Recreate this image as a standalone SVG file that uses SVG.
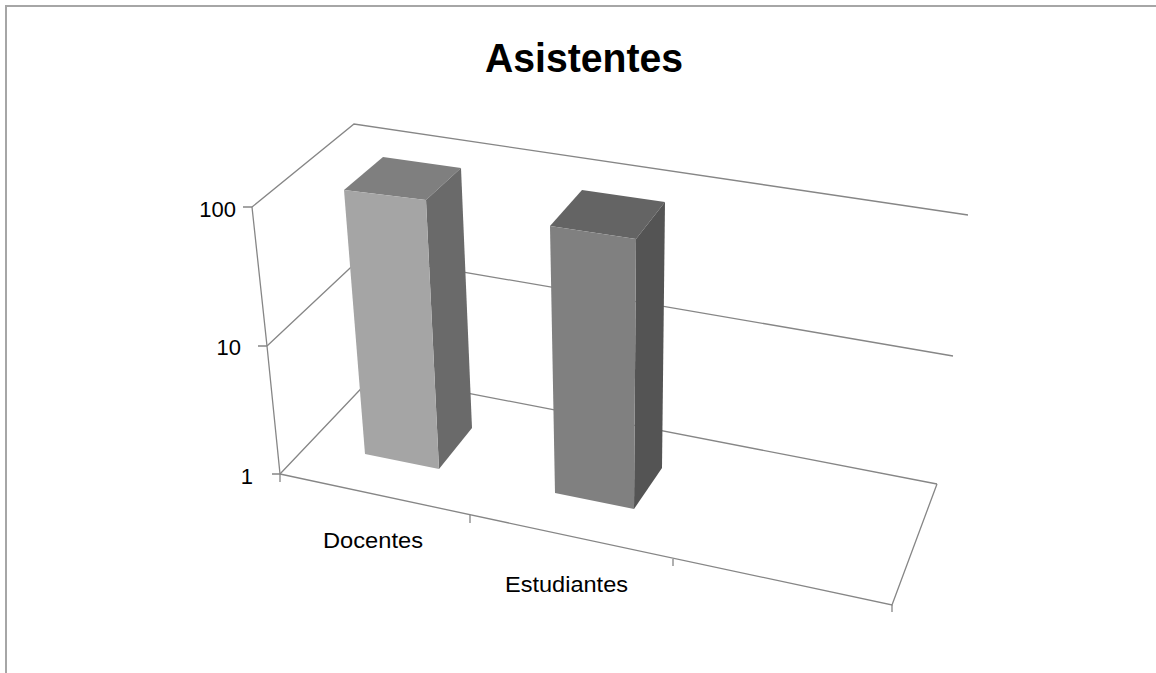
<svg xmlns="http://www.w3.org/2000/svg" width="1156" height="673" viewBox="0 0 1156 673">
<style>
.frame{fill:none;stroke:#a6a6a6;stroke-width:2}
.grid{fill:none;stroke:#868686;stroke-width:1.3}
.lbl{font-family:"Liberation Sans",Arial,sans-serif;font-size:22px;fill:#000}
.title{font-family:"Liberation Sans",Arial,sans-serif;font-size:41px;font-weight:bold;fill:#000}
</style>
<rect width="1156" height="673" fill="#ffffff"/>
<path class="frame" d="M6,673 V6 H1156"/>
<g id="title"><text class="title" x="485" y="72" textLength="198" lengthAdjust="spacingAndGlyphs">Asistentes</text></g>
<g id="connectors">
<path class="grid" d="M252,207 L354,124 L968,215"/>
<path class="grid" d="M267,346 L364,255 L953,356"/>
<path class="grid" d="M280,474 L374,375 L937,484"/>
<path class="grid" d="M252,207 L267,346 L280,474"/>
<path class="grid" d="M243,207 H252 M258,346 H267 M272,474 H280 M280,474 V482"/>
<path class="grid" d="M280,474 L892,605 L937,484"/>
<path class="grid" d="M470,515 V523 M673,559 V566 M892,605 V612"/>
</g>
<g id="bar-docentes">
<polygon points="344,190 383,157 461,168 426,200" fill="#7f7f7f"/>
<polygon points="426,200 461,168 472,428 439,469" fill="#6a6a6a"/>
<polygon points="344,190 426,200 439,469 365,454" fill="#a5a5a5"/>
</g>
<g id="bar-estudiantes">
<polygon points="550,226 582,190 665,202 636,239" fill="#646464"/>
<polygon points="636,239 665,202 662,468 634,509" fill="#545454"/>
<polygon points="550,226 636,239 634,509 555,493" fill="#808080"/>
</g>
<g id="axis-labels">
<text class="lbl" x="236" y="217" text-anchor="end">100</text>
<text class="lbl" x="241" y="355" text-anchor="end">10</text>
<text class="lbl" x="253" y="484" text-anchor="end">1</text>
<text class="lbl" x="323" y="548" textLength="100" lengthAdjust="spacingAndGlyphs">Docentes</text>
<text class="lbl" x="505" y="592" textLength="123" lengthAdjust="spacingAndGlyphs">Estudiantes</text>
</g>
</svg>
